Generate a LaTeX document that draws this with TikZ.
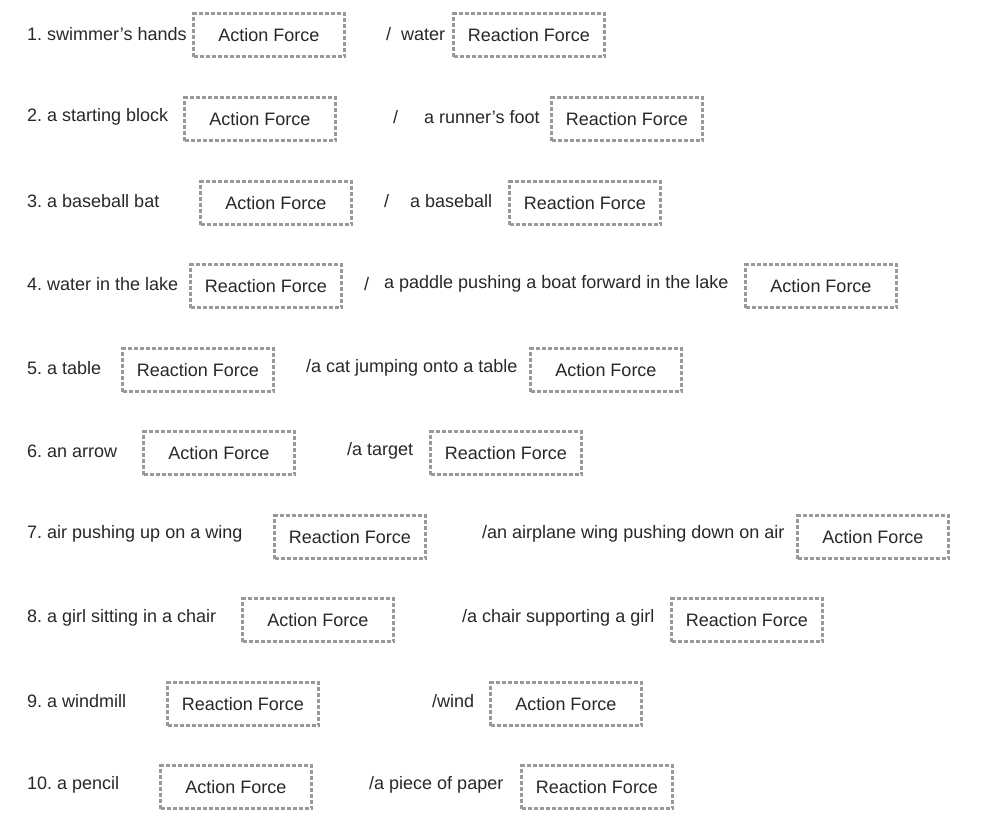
\documentclass[tikz,border=0pt]{standalone}
\usepackage{fontspec}
\setmainfont{Liberation Sans}
\frenchspacing
\definecolor{txt}{RGB}{40,40,40}
\tikzset{
  forcebox/.style={draw=gray!80,dash pattern=on 4pt off 2pt,line width=3pt,fill=white,text=txt,
    minimum width=151pt,minimum height=43pt,inner sep=0pt,font=\fontsize{18}{21}\selectfont},
  item/.style={anchor=west,inner sep=0pt,text=txt,font=\fontsize{18}{21}\selectfont}
}
\begin{document}
\begin{tikzpicture}[x=1pt,y=-1pt]
\useasboundingbox[fill=white] (0,0) rectangle (996,817);

\node[item] (l1) at (27,34) {1. swimmer’s hands};
\node[forcebox] (a1) at (269,35) {Action Force};
\node[item] (r1) at (386,34) {/\ \ water};
\node[forcebox] (b1) at (529,35) {Reaction Force};

\node[item] (l2) at (27,117) {2. a starting block};
\node[forcebox] (a2) at (260,119) {Action Force};
\node[item] (s2) at (393,117) {/};
\node[item] (r2) at (424,117) {a runner’s foot};
\node[forcebox] (b2) at (627,119) {Reaction Force};

\node[item] (l3) at (27,201) {3. a baseball bat};
\node[forcebox] (a3) at (276,203) {Action Force};
\node[item] (s3) at (384,201) {/};
\node[item] (r3) at (410,201) {a baseball};
\node[forcebox] (b3) at (585,203) {Reaction Force};

\node[item] (l4) at (27,284) {4. water in the lake};
\node[forcebox] (a4) at (266,286) {Reaction Force};
\node[item] (s4) at (364,284) {/};
\node[item] (r4) at (384,284) {a paddle pushing a boat forward in the lake};
\node[forcebox] (b4) at (821,286) {Action Force};

\node[item] (l5) at (27,368) {5. a table};
\node[forcebox] (a5) at (198,370) {Reaction Force};
\node[item] (r5) at (306,368) {/a cat jumping onto a table};
\node[forcebox] (b5) at (606,370) {Action Force};

\node[item] (l6) at (27,451) {6. an arrow};
\node[forcebox] (a6) at (219,453) {Action Force};
\node[item] (r6) at (347,451) {/a target};
\node[forcebox] (b6) at (506,453) {Reaction Force};

\node[item] (l7) at (27,534) {7. air pushing up on a wing};
\node[forcebox] (a7) at (350,537) {Reaction Force};
\node[item] (r7) at (482,534) {/an airplane wing pushing down on air};
\node[forcebox] (b7) at (873,537) {Action Force};

\node[item] (l8) at (27,618) {8. a girl sitting in a chair};
\node[forcebox] (a8) at (318,620) {Action Force};
\node[item] (r8) at (462,618) {/a chair supporting a girl};
\node[forcebox] (b8) at (747,620) {Reaction Force};

\node[item] (l9) at (27,701) {9. a windmill};
\node[forcebox] (a9) at (243,704) {Reaction Force};
\node[item] (r9) at (432,701) {/wind};
\node[forcebox] (b9) at (566,704) {Action Force};

\node[item] (l10) at (27,785) {10. a pencil};
\node[forcebox] (a10) at (236,787) {Action Force};
\node[item] (r10) at (369,785) {/a piece of paper};
\node[forcebox] (b10) at (597,787) {Reaction Force};

\end{tikzpicture}
\end{document}
